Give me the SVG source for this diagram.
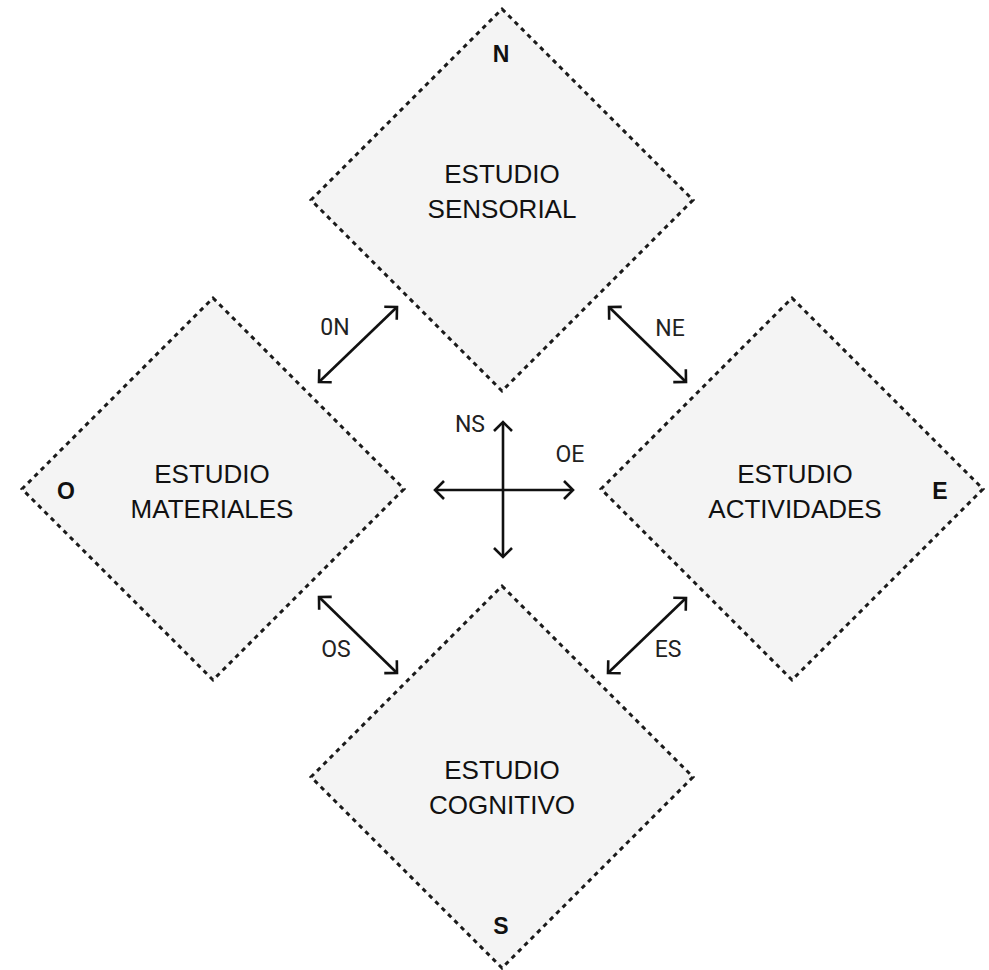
<svg xmlns="http://www.w3.org/2000/svg" width="989" height="970" viewBox="0 0 989 970">
<defs>
<style>
.dia{fill:#f4f4f4;stroke:#1a1a1a;stroke-width:3;stroke-dasharray:4.5 4.5}
.main{font-family:"Liberation Sans",Arial,sans-serif;font-size:26px;fill:#111;text-anchor:middle}
.corner{font-family:"Liberation Sans",Arial,sans-serif;font-size:23px;font-weight:bold;fill:#111;text-anchor:middle}
.lbl{font-family:Roboto,"Liberation Sans",sans-serif;font-size:23px;fill:#222;text-anchor:middle}
.arr{stroke:#111;stroke-width:2.6;fill:none;marker-start:url(#ah);marker-end:url(#ah)}
</style>
<marker id="ah" markerUnits="userSpaceOnUse" markerWidth="24" markerHeight="24" viewBox="-12 -12 24 24" refX="0" refY="0" orient="auto-start-reverse">
<path d="M-9,-9 L0,0 L-9,9" fill="none" stroke="#111" stroke-width="2.6"/>
</marker>
</defs>
<rect width="989" height="970" fill="#ffffff"/>
<g id="node-n">
<polygon class="dia" points="502,9 693,200 502,391 311,200"/>
<text class="corner" x="501" y="62">N</text>
<text class="main" x="502" y="183">ESTUDIO</text>
<text class="main" x="502" y="218">SENSORIAL</text>
</g>
<g id="node-o">
<polygon class="dia" points="213,298 404,489 213,680 22,489"/>
<text class="corner" x="66" y="499">O</text>
<text class="main" x="212" y="483">ESTUDIO</text>
<text class="main" x="212" y="518">MATERIALES</text>
</g>
<g id="node-e">
<polygon class="dia" points="792,298 983,489 792,680 601,489"/>
<text class="corner" x="940" y="499">E</text>
<text class="main" x="795" y="483">ESTUDIO</text>
<text class="main" x="795" y="518">ACTIVIDADES</text>
</g>
<g id="node-s">
<polygon class="dia" points="502,586 693,777 502,968 311,777"/>
<text class="corner" x="501" y="934">S</text>
<text class="main" x="502" y="779">ESTUDIO</text>
<text class="main" x="502" y="814">COGNITIVO</text>
</g>
<g id="connectors">
<line class="arr" x1="319" y1="382" x2="397" y2="307"/>
<line class="arr" x1="609" y1="307" x2="686" y2="382"/>
<line class="arr" x1="319" y1="597" x2="397" y2="673"/>
<line class="arr" x1="608" y1="673" x2="686" y2="598"/>
<line class="arr" x1="503" y1="422" x2="503" y2="557"/>
<line class="arr" x1="435" y1="490" x2="573" y2="490"/>
<text class="lbl" x="335" y="335">0N</text>
<text class="lbl" x="670" y="336">NE</text>
<text class="lbl" x="336" y="657">OS</text>
<text class="lbl" x="668" y="657">ES</text>
<text class="lbl" x="470" y="432">NS</text>
<text class="lbl" x="570" y="462">OE</text>
</g>
</svg>
